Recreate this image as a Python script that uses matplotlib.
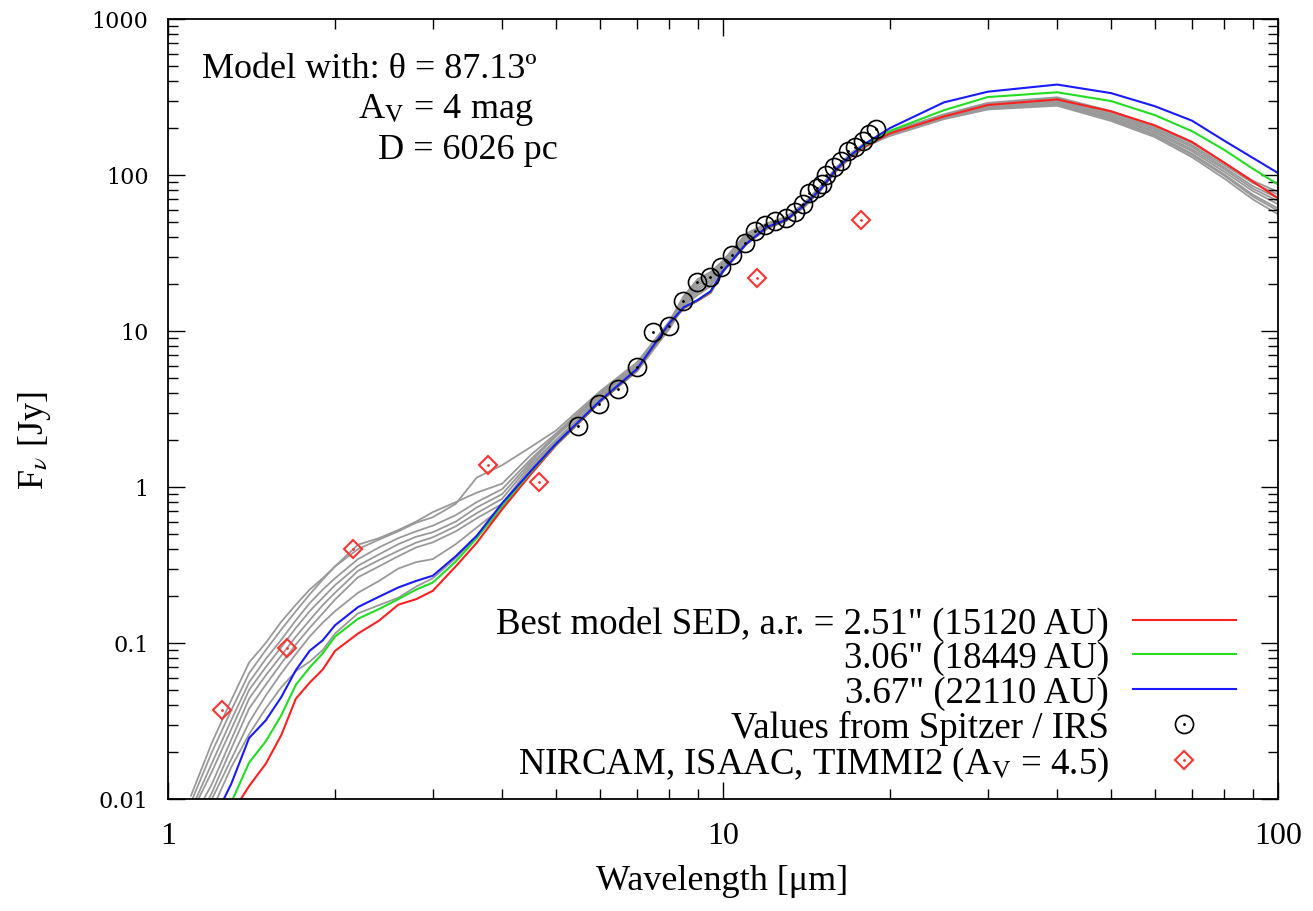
import numpy as np
import matplotlib
matplotlib.use("Agg")
import matplotlib.pyplot as plt
from matplotlib.legend_handler import HandlerTuple
from matplotlib.ticker import LogLocator, NullFormatter

plt.rcParams['font.family'] = ['Liberation Serif', 'DejaVu Serif']
plt.rcParams['mathtext.fontset'] = 'stix'

# --- model SEDs (wavelength in micron, flux in Jy) ---
lam_model = [1.1, 1.2, 1.3, 1.4, 1.5, 1.6, 1.7, 1.8, 1.9, 2.0, 2.2, 2.4, 2.6, 2.8, 3.0,
             3.3, 3.6, 4.0, 4.5, 5.0, 6.0, 7.0, 8.0, 8.5, 9.0, 9.5, 10, 11, 12, 13,
             14, 15, 16, 17, 18, 20, 25, 30, 40, 50, 60, 70, 80, 90, 100]

sed_best = [0.003, 0.005, 0.008, 0.0121, 0.0168, 0.0257, 0.044, 0.0557, 0.0675, 0.089, 0.115,
            0.139, 0.176, 0.191, 0.216, 0.31, 0.439, 0.72, 1.2, 1.85, 3.5, 5.65, 11.0, 14.0,
            15.6, 17.6, 24.0, 35.8, 46.0, 51.0, 63.5, 80.5, 107, 131, 152, 185, 237, 281, 305,
            256, 208, 163, 120, 91, 71]
sed_306 = [0.003, 0.0055, 0.0095, 0.0171, 0.0234, 0.0344, 0.054, 0.0697, 0.0858, 0.110, 0.143,
           0.165, 0.191, 0.220, 0.244, 0.333, 0.47, 0.76, 1.24, 1.87, 3.53, 5.68, 11.1, 14.1,
           15.7, 17.8, 24.1, 36.0, 46.2, 51.2, 63.8, 81, 108, 133, 155, 192, 260, 316, 339,
           298, 242, 191, 145, 110, 87]
sed_367 = [0.003, 0.007, 0.0125, 0.0246, 0.0319, 0.045, 0.0671, 0.0891, 0.104, 0.130, 0.170,
           0.198, 0.227, 0.25, 0.27, 0.36, 0.487, 0.787, 1.26, 1.89, 3.56, 5.71, 11.2, 14.2,
           15.8, 18.0, 24.2, 36.1, 46.4, 51.5, 64.2, 81.3, 109, 134, 158, 200, 292, 342, 380,
           335, 276, 223, 166, 129, 103]

gray_1 = [0.0105, 0.023, 0.043, 0.075, 0.10, 0.137, 0.176, 0.22, 0.26, 0.31, 0.40, 0.46, 0.52,
          0.59, 0.64, 0.78, 1.15, 1.38, 1.8, 2.3, 4.1, 6.3, 11.5, 16.8, 21.5, 23.9, 28.2, 42,
          49, 54, 66, 85, 112, 138, 160, 182, 232, 270, 288, 231, 182, 137, 101, 75, 61]
gray_2 = [0.0095, 0.020, 0.037, 0.064, 0.090, 0.122, 0.16, 0.205, 0.255, 0.31, 0.427, 0.47,
          0.53, 0.60, 0.69, 0.80, 0.92, 1.05, 1.6, 2.2, 4.0, 6.1, 11.3, 16.5, 20.9, 23.3, 27.7,
          41, 48.5, 53.5, 65.5, 84.3, 111, 137, 158.5, 190, 245, 290, 315, 257, 205, 160, 120,
          92, 78]
gray_3 = [0.0085, 0.017, 0.032, 0.056, 0.079, 0.105, 0.14, 0.18, 0.22, 0.26, 0.345, 0.41, 0.47,
          0.52, 0.565, 0.66, 0.80, 0.97, 1.5, 2.15, 3.9, 6.0, 11.2, 16.1, 20.2, 22.6, 27.3, 40,
          48, 53, 65, 83.6, 110, 136, 157, 185, 237, 278, 299, 241, 191, 146, 109, 82, 68]
gray_4 = [0.008, 0.015, 0.028, 0.05, 0.07, 0.094, 0.125, 0.16, 0.195, 0.235, 0.313, 0.37, 0.43,
          0.48, 0.513, 0.60, 0.74, 0.90, 1.45, 2.1, 3.8, 5.9, 11.0, 15.8, 19.6, 22.0, 26.8, 39,
          47, 52.6, 64.5, 82.9, 109, 135, 155.5, 178, 228, 263, 278, 222, 175, 130, 95, 70, 56]
gray_5 = [0.007, 0.0125, 0.024, 0.044, 0.062, 0.083, 0.11, 0.14, 0.175, 0.21, 0.29, 0.34, 0.39,
          0.44, 0.476, 0.56, 0.68, 0.84, 1.4, 2.0, 3.7, 5.8, 10.8, 15.5, 18.9, 21.3, 26.4, 38.5,
          46.5, 52.2, 63.8, 82.1, 108.5, 133, 154, 187, 240, 282, 304, 246, 196, 151, 112, 85, 71]
gray_6 = [0.006, 0.011, 0.021, 0.038, 0.054, 0.074, 0.098, 0.125, 0.155, 0.19, 0.264, 0.31,
          0.36, 0.41, 0.442, 0.52, 0.63, 0.78, 1.35, 1.95, 3.6, 5.7, 10.7, 15.1, 18.3, 20.7,
          25.9, 37.5, 46, 51.8, 63.2, 81.4, 107.5, 132, 152.5, 183, 235, 274, 293, 236, 187,
          142, 105, 79, 65]
gray_7 = [0.005, 0.0100, 0.018, 0.031, 0.046, 0.064, 0.085, 0.11, 0.135, 0.16, 0.21, 0.25,
          0.30, 0.33, 0.345, 0.43, 0.55, 0.74, 1.3, 1.9, 3.55, 5.6, 10.5, 14.8, 17.6, 20.0,
          25.5, 36.8, 45.5, 51.4, 62.6, 80.7, 106.8, 131, 151, 188, 243, 286, 310, 252, 200,
          155, 116, 89, 75]
gray_8 = [0.004, 0.0085, 0.016, 0.026, 0.038, 0.052, 0.066, 0.076, 0.09, 0.115, 0.155, 0.175,
          0.195, 0.23, 0.26, 0.35, 0.48, 0.72, 1.27, 1.85, 3.5, 5.5, 10.3, 14.5, 17.0, 19.4,
          25.0, 36, 45, 51, 62, 80, 106, 130, 150, 180, 230, 267, 283, 227, 179, 134, 99, 73, 59]
gray_models = [gray_1, gray_2, gray_3, gray_4, gray_5, gray_6, gray_7, gray_8]

# --- observations ---
lam_irs = [5.47, 5.98, 6.48, 6.99, 7.47, 7.99, 8.48, 8.97, 9.48, 9.92, 10.4, 10.96, 11.4,
           11.9, 12.4, 12.97, 13.5, 13.95, 14.3, 14.8, 15.06, 15.3, 15.85, 16.3, 16.8,
           17.3, 17.85, 18.3, 18.9]
flux_irs = [2.47, 3.40, 4.25, 5.85, 9.8, 10.8, 15.6, 20.7, 22.3, 25.6, 30.7, 36.7, 44.0,
            47.8, 50.9, 52.8, 58.2, 65.2, 76.3, 82.5, 87.6, 100, 112, 123, 143, 151, 166,
            183, 197]

lam_phot = [1.25, 1.64, 2.15, 3.77, 4.66, 11.5, 17.7]
flux_phot = [0.037, 0.093, 0.40, 1.38, 1.08, 21.9, 51.4]

labels = ['Best model SED, a.r. = 2.51" (15120 AU)',
          '3.06" (18449 AU)',
          '3.67" (22110 AU)',
          'Values from Spitzer / IRS',
          'NIRCAM, ISAAC, TIMMI2 (A$_{\\mathrm{V}}$ = 4.5)']

fig = plt.figure(figsize=(13.13, 9.12), dpi=100)
ax = fig.add_axes([168 / 1313, 112 / 912, 1110 / 1313, 780 / 912])

for g in gray_models:
    ax.plot(lam_model, g, color='#999999', lw=1.3, zorder=1)
l1, = ax.plot(lam_model, sed_best, color='#ff2020', lw=1.5, zorder=2)
l2, = ax.plot(lam_model, sed_306, color='#22dd22', lw=1.5, zorder=2)
l3, = ax.plot(lam_model, sed_367, color='#1a1aff', lw=1.5, zorder=2)

c1, = ax.plot(lam_irs, flux_irs, 'o', mfc='none', mec='black', ms=13, mew=1.2, zorder=3)
c2, = ax.plot(lam_irs, flux_irs, '.', color='black', ms=2, zorder=3)
d1, = ax.plot(lam_phot, flux_phot, 'D', mfc='none', mec='#ff3333', ms=9, mew=1.5, zorder=4)
d2, = ax.plot(lam_phot, flux_phot, '.', color='#ff3333', ms=2, zorder=4)

ax.set_xscale('log')
ax.set_yscale('log')
ax.set_xlim(1, 100)
ax.set_ylim(0.01, 1000)

ax.set_xticks([1, 10, 100], ['1', '10', '100'], fontsize=23)
ax.set_yticks([0.01, 0.1, 1, 10, 100, 1000], ['0.01', '0.1', '1', '10', '100', '1000'],
              fontfamily='DejaVu Serif', fontsize=16)
ax.xaxis.set_minor_locator(LogLocator(base=10, subs=np.arange(2, 10)))
ax.yaxis.set_minor_locator(LogLocator(base=10, subs=np.arange(2, 10)))
ax.xaxis.set_minor_formatter(NullFormatter())
ax.yaxis.set_minor_formatter(NullFormatter())
ax.tick_params(which='both', direction='in', top=True, right=True, width=1)
ax.tick_params(which='major', length=12)
ax.tick_params(which='minor', length=7)
ax.tick_params(axis='x', pad=16)
ax.tick_params(axis='y', pad=14)
for s in ax.spines.values():
    s.set_linewidth(1.3)

ax.set_xlabel('Wavelength [μm]', fontsize=26)
ax.xaxis.set_label_coords(0.4995, -0.083)
ax.set_ylabel('F$_{\\nu}$ [Jy]', fontsize=26)
ax.yaxis.set_label_coords(-0.104, 0.46)

ax.text(0.0306, 0.936, 'Model with: θ = 87.13º', transform=ax.transAxes,
        fontsize=26, ha='left', va='center')
ax.text(0.171, 0.885, 'A$_{\\mathrm{V}}$ = 4 mag', transform=ax.transAxes,
        fontsize=26, ha='left', va='center')
ax.text(0.189, 0.833, 'D = 6026 pc', transform=ax.transAxes,
        fontsize=26, ha='left', va='center')

ax.legend([l1, l2, l3, (c1, c2), (d1, d2)], labels,
          handler_map={tuple: HandlerTuple(ndivide=1)},
          loc='lower right', bbox_to_anchor=(0.962, 0.02), frameon=False,
          markerfirst=False, fontsize=26.5, handlelength=2.8, handletextpad=0.65,
          labelspacing=0.0, borderpad=0, borderaxespad=0)

fig.savefig('out.png', dpi=100)
